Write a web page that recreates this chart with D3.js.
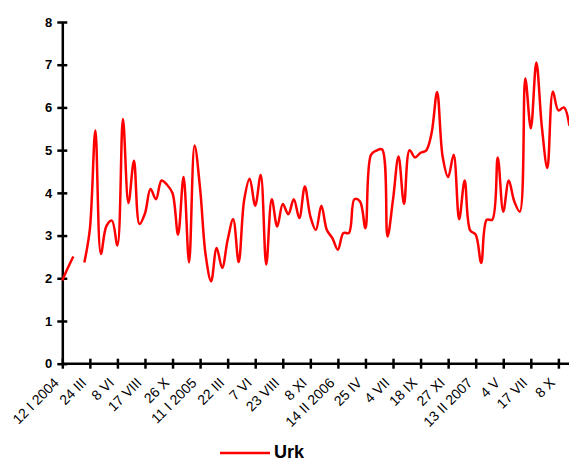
<!DOCTYPE html>
<html>
<head>
<meta charset="utf-8">
<script src="https://cdn.jsdelivr.net/npm/d3@7"></script>
<style>
  body { margin: 0; background: #fff; }
  svg { display: block; font-family: "Liberation Sans", Arial, sans-serif; }
  .axis path, .axis line { stroke: #000; stroke-width: 2.5; }
</style>
</head>
<body>
<div id="chart"></div>
<script>
// tick labels, one every 5 points
var tickLabels = ['12 I 2004', '24 III', '8 VI', '17 VIII', '26 X', '11 I 2005', '22 III', '7 VI',
  '23 VIII', '8 XI', '14 II 2006', '25 IV', '4 VII', '18 IX', '27 XI', '13 II 2007', '4 V', '17 VII', '8 X'];

// Urk series (null = missing value)
var urk = [1.95, 2.24, 2.51, null, 2.37, 3.15, 5.46, 2.57, 3.22, 3.35,
  2.77, 5.73, 3.76, 4.75, 3.27, 3.52, 4.09, 3.85, 4.29, 4.19,
  3.99, 3.02, 4.37, 2.37, 5.11, 4.1, 2.55, 1.93, 2.71, 2.24,
  2.9, 3.38, 2.38, 3.84, 4.33, 3.7, 4.42, 2.32, 3.85, 3.21,
  3.74, 3.5, 3.85, 3.41, 4.15, 3.45, 3.13, 3.7, 3.13, 2.94,
  2.67, 3.06, 3.06, 3.85, 3.8, 3.17, 4.89, 4.99, 5.02, 2.98,
  3.84, 4.85, 3.74, 5.0, 4.83, 4.94, 4.99, 5.4, 6.36, 4.85,
  4.37, 4.89, 3.38, 4.29, 3.12, 3.02, 2.36, 3.37, 3.37, 4.83,
  3.56, 4.29, 3.8, 3.56, 6.68, 5.51, 7.05, 5.55, 4.58, 6.37,
  5.93, 6.0, 5.57];

var yTicks = [0, 1, 2, 3, 4, 5, 6, 7, 8];
var seriesName = 'Urk';

var width = 569;
var height = 462;

var svg = d3.select('#chart')
  .append('svg')
  .attr('width', width)
  .attr('height', height);

var x = d3.scaleLinear()
  .domain([0, urk.length - 1])
  .range([62.3, 569.4]);

var y = d3.scaleLinear()
  .domain([0, 8])
  .range([363.7, 22]);

// x axis
var xAxis = svg.append('g')
  .attr('class', 'axis x')
  .attr('transform', 'translate(0,363.7)')
  .call(d3.axisBottom(x)
    .tickValues(d3.range(0, tickLabels.length * 5, 5))
    .tickFormat(function(d) { return tickLabels[d / 5]; })
    .tickSizeOuter(0)
    .tickSizeInner(5));

xAxis.select('.domain').attr('d', 'M62.3,0H569');
xAxis.selectAll('.tick line').attr('y1', -5).attr('y2', 5);
xAxis.selectAll('.tick text')
  .attr('font-size', 14)
  .attr('fill', '#000')
  .attr('text-anchor', 'end')
  .attr('dy', null)
  .attr('y', 0)
  .attr('transform', 'translate(-3,20) rotate(-45)');

// y axis
var yAxis = svg.append('g')
  .attr('class', 'axis y')
  .attr('transform', 'translate(62.3,0)')
  .call(d3.axisLeft(y)
    .tickValues(yTicks)
    .tickSizeOuter(0)
    .tickSizeInner(5));

yAxis.selectAll('.tick line').attr('x1', -5).attr('x2', 5);
yAxis.selectAll('.tick text')
  .attr('x', -10)
  .attr('font-size', 13)
  .attr('font-weight', 'bold')
  .attr('fill', '#000');

// line
var line = d3.line()
  .defined(function(d) { return d != null; })
  .curve(d3.curveCatmullRom)
  .x(function(d, i) { return x(i); })
  .y(function(d) { return y(d); });

svg.append('path')
  .datum(urk)
  .attr('fill', 'none')
  .attr('stroke', '#ff0000')
  .attr('stroke-width', 2.5)
  .attr('d', line);

// legend
var legend = svg.append('g')
  .attr('transform', 'translate(220,453)');

legend.append('line')
  .attr('x1', 0).attr('x2', 50)
  .attr('y1', 0).attr('y2', 0)
  .attr('stroke', '#ff0000')
  .attr('stroke-width', 2.5);

legend.append('text')
  .attr('x', 54)
  .attr('y', 5)
  .attr('font-size', 18)
  .attr('font-weight', 'bold')
  .text(seriesName);
</script>
</body>
</html>
